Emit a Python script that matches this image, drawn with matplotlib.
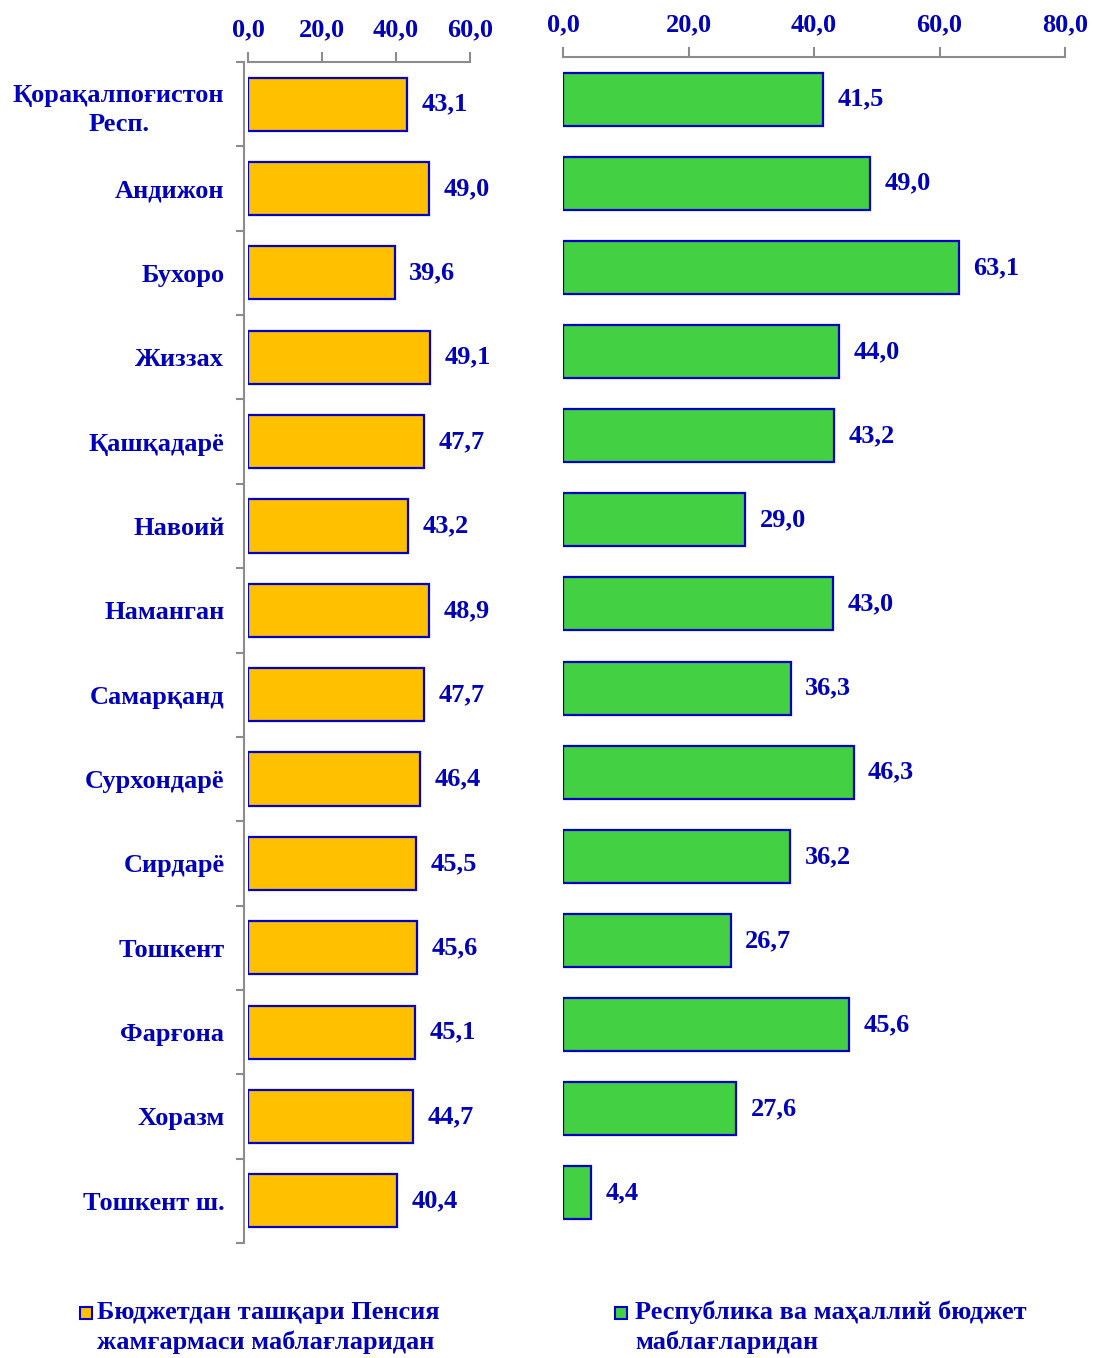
import numpy as np
import matplotlib.pyplot as plt
from matplotlib.patches import Rectangle
from matplotlib.ticker import FixedLocator

# Regions and values (%)
regions = ['Қорақалпоғистон\nРесп.', 'Андижон', 'Бухоро', 'Жиззах', 'Қашқадарё',
           'Навоий', 'Наманган', 'Самарқанд', 'Сурхондарё', 'Сирдарё',
           'Тошкент', 'Фарғона', 'Хоразм', 'Тошкент ш.']
pension_fund = [43.1, 49.0, 39.6, 49.1, 47.7, 43.2, 48.9, 47.7, 46.4, 45.5, 45.6, 45.1, 44.7, 40.4]
budget = [41.5, 49.0, 63.1, 44.0, 43.2, 29.0, 43.0, 36.3, 46.3, 36.2, 26.7, 45.6, 27.6, 4.4]
label_pension = 'Бюджетдан ташқари Пенсия\nжамғармаси маблағларидан'
label_budget = 'Республика ва маҳаллий бюджет\nмаблағларидан'

txt_color = '#0000B8'
edge_color = '#0000C8'
spine_color = '#8C8C8C'
pension_color = '#FFC000'
budget_color = '#43D043'
plt.rcParams['font.family'] = ['Liberation Serif', 'DejaVu Serif']
plt.rcParams['font.weight'] = 'bold'
FS = 19

W, H = 1093, 1358
fig = plt.figure(figsize=(W / 100, H / 100), dpi=100)


def px_axes(x0, x1, y0, y1):
    return fig.add_axes([x0 / W, 1 - y1 / H, (x1 - x0) / W, (y1 - y0) / H])


def fmt(v):
    return f'{v:.1f}'.replace('.', ',')


ax1 = px_axes(248, 470, 62, 1243)
ax2 = px_axes(563, 1065, 57, 1235)

y = np.arange(len(regions))

def draw_panel(ax, values, color, xmax, step):
    bars = ax.barh(y, values, height=0.63, color=color, edgecolor=edge_color,
                   linewidth=1.6)
    ax.set_xlim(0, xmax)
    ax.set_ylim(len(regions) - 0.5, -0.5)
    ticks = np.arange(0, xmax + 0.1, step)
    ax.set_xticks(ticks)
    ax.set_xticklabels([fmt(v) for v in ticks])
    ax.xaxis.tick_top()
    ax.tick_params(axis='x', colors=spine_color, labelcolor=txt_color, labelsize=FS,
                   length=7, width=1.5, pad=8)
    for s in ['right', 'bottom']:
        ax.spines[s].set_visible(False)
    ax.spines['top'].set_color(spine_color)
    ax.spines['top'].set_linewidth(1.5)
    for b, v in zip(bars, values):
        ax.annotate(fmt(v), (b.get_width(), b.get_y() + b.get_height() / 2),
                    xytext=(10.5, 0), textcoords='offset points', va='center', ha='left',
                    fontsize=FS, color=txt_color, fontweight='bold')
    return bars


bars1 = draw_panel(ax1, pension_fund, pension_color, 60, 20)
bars2 = draw_panel(ax2, budget, budget_color, 80, 20)

# left panel: category axis with ticks at band borders
ax1.spines['left'].set_color(spine_color)
ax1.spines['left'].set_linewidth(1.5)
ax1.spines['left'].set_position(('outward', 3))
ax1.yaxis.set_major_locator(FixedLocator(np.arange(-0.5, len(regions), 1)))
ax1.yaxis.set_minor_locator(FixedLocator(y))
ax1.set_yticklabels([])
ax1.set_yticklabels(regions, minor=True, multialignment='center', linespacing=1.33)
ax1.tick_params(axis='y', which='major', colors=spine_color, length=6, width=1.5)
ax1.tick_params(axis='y', which='minor', length=0, pad=14, labelsize=FS, labelcolor=txt_color)

ax2.spines['left'].set_visible(False)
ax2.set_yticks([])

# legend entries (square aligned with first text line)
for color, lab, xs, xt in [(pension_color, label_pension, 80, 97),
                           (budget_color, label_budget, 615, 635)]:
    fig.patches.append(Rectangle((xs / W, 1 - 1319 / H), 12 / W, 12 / H,
                                 transform=fig.transFigure, facecolor=color,
                                 edgecolor=edge_color, linewidth=1.5))
    fig.text(xt / W, 1 - 1301 / H, lab, ha='left', va='top', fontsize=FS,
             color=txt_color, fontweight='bold', linespacing=1.33)

fig.savefig('out.png', dpi=100)
